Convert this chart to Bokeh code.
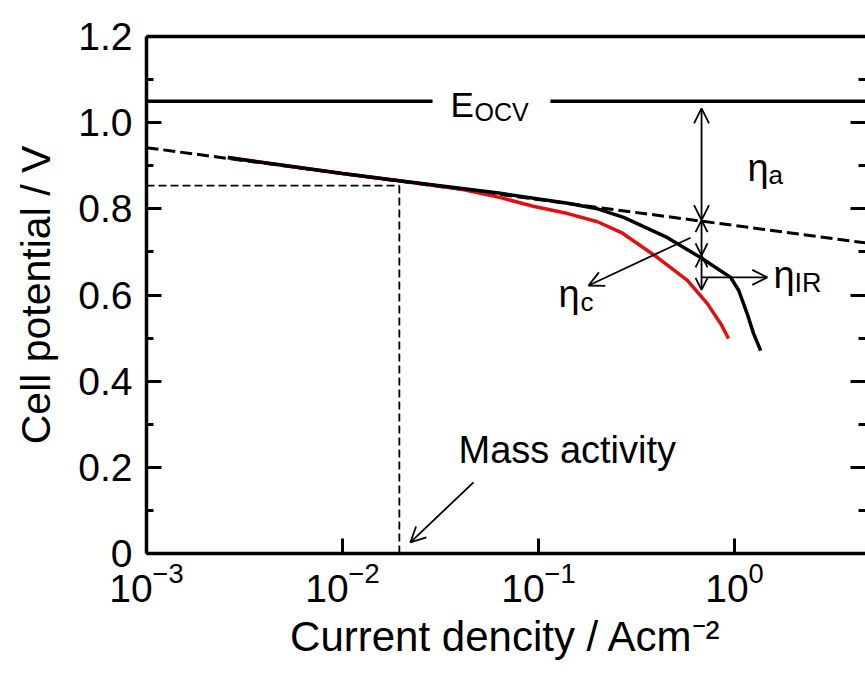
from bokeh.plotting import figure
from bokeh.models import (LogAxis, LinearAxis, Range1d, FixedTicker, LogScale,
                          Arrow, OpenHead, CustomLabelingPolicy)
from bokeh.core.properties import value
from bokeh.embed import file_html
from bokeh.resources import INLINE

FONT = "Liberation Sans"

# ---------------- data ----------------
black_j = [0.0026, 0.01, 0.0195, 0.064, 0.141, 0.20, 0.272, 0.455, 0.671, 0.955, 1.05, 1.16, 1.25, 1.36]
black_v = [0.919, 0.882, 0.865, 0.836, 0.813, 0.800, 0.780, 0.733, 0.687, 0.641, 0.611, 0.557, 0.511, 0.471]
red_j = [0.0026, 0.01, 0.0195, 0.04, 0.064, 0.094, 0.141, 0.20, 0.265, 0.405, 0.575, 0.727, 0.849, 0.932]
red_v = [0.919, 0.882, 0.865, 0.846, 0.826, 0.806, 0.789, 0.770, 0.745, 0.687, 0.634, 0.580, 0.534, 0.499]
tafel_j = [0.001, 4.66]
tafel_v = [0.942, 0.721]
e_ocv = 1.05
ocv_x0 = [0.001, 0.115]
ocv_x1 = [0.0288, 4.66]
mass_j = 0.0195
mass_v = 0.854
x_ticks = [0.001, 0.01, 0.1, 1.0]
y_ticks = [0, 0.2, 0.4, 0.6, 0.8, 1.0, 1.2]
y_minor = [0.1, 0.3, 0.5, 0.7, 0.9, 1.1]
y_labels = ["0", "0.2", "0.4", "0.6", "0.8", "1.0", "1.2"]

# annotation anchors
eta_x = 0.679
eta_tafel = 0.774
eta_black = 0.692
eta_red = 0.612
eta_ir_y = 0.641
eta_ir_end = 1.47
etac_start = (0.597, 0.733)
etac_end = (0.180, 0.622)
mass_arrow_start = (0.0466, 0.165)
mass_arrow_end = (0.0222, 0.026)

p = figure(width=865, height=676, x_axis_type=None, y_axis_type=None,
           x_range=Range1d(0.001, 4.66), y_range=Range1d(0, 1.2),
           output_backend="svg", toolbar_location=None,
           min_border_left=146, min_border_right=0, min_border_top=36, min_border_bottom=123)
p.x_scale = LogScale()
p.outline_line_color = None
p.background_fill_color = "white"
p.border_fill_color = "white"
p.grid.visible = False

LW = 3.5
HIDE = "for (const i of indices) indices.unset(i)"


def style_common(ax):
    ax.axis_line_width = LW
    ax.axis_line_color = "black"
    ax.major_tick_line_width = 3
    ax.minor_tick_line_width = 3
    ax.major_tick_in = 15
    ax.major_tick_out = 0
    ax.minor_tick_in = 7
    ax.minor_tick_out = 0
    ax.major_label_text_color = "black"
    ax.axis_label_text_color = "black"


def hide_labels(ax):
    ax.major_label_policy = CustomLabelingPolicy(code=HIDE)
    ax.major_label_text_font_size = "0px"
    ax.major_label_standoff = 0


# bottom axis
xb = LogAxis(ticker=FixedTicker(ticks=x_ticks))
style_common(xb)
xb.minor_tick_line_color = None
xb.major_label_text_font = FONT
xb.major_label_text_font_size = "39px"
xb.major_label_standoff = 8
xb.axis_label = "Current dencity / Acm⁻²"
xb.axis_label_text_font = FONT
xb.axis_label_text_font_style = "normal"
xb.axis_label_text_font_size = "42px"
xb.axis_label_standoff = 8
p.add_layout(xb, "below")

# top axis (frame line only)
xt = LogAxis(ticker=FixedTicker(ticks=[]))
style_common(xt)
xt.major_tick_line_color = None
xt.minor_tick_line_color = None
hide_labels(xt)
p.add_layout(xt, "above")

# left axis
yl = LinearAxis(ticker=FixedTicker(ticks=y_ticks, minor_ticks=y_minor))
style_common(yl)
yl.major_label_text_font = FONT
yl.major_label_text_font_size = "39px"
yl.major_label_standoff = 14
yl.major_label_overrides = {t: s for t, s in zip(y_ticks, y_labels)}
yl.axis_label = "Cell potential / V"
yl.axis_label_text_font = FONT
yl.axis_label_text_font_style = "normal"
yl.axis_label_text_font_size = "41px"
yl.axis_label_standoff = 16
p.add_layout(yl, "left")

# right axis (ticks only)
yr = LinearAxis(ticker=FixedTicker(ticks=y_ticks, minor_ticks=y_minor))
style_common(yr)
yr.axis_line_color = None
hide_labels(yr)
p.add_layout(yr, "right")

# E_OCV line (with a gap for its label)
p.segment(x0=ocv_x0, y0=[e_ocv] * 2, x1=ocv_x1, y1=[e_ocv] * 2, line_color="black", line_width=3.5)

# Tafel extrapolation
p.line(tafel_j, tafel_v, line_color="black", line_width=3, line_dash="12 5")

# mass-activity guides
p.line([0.001, mass_j], [mass_v, mass_v], line_color="black", line_width=1.8, line_dash="8 4")
p.line([mass_j, mass_j], [0, mass_v], line_color="black", line_width=1.8, line_dash="8 4")

# polarisation curves
p.line(red_j, red_v, line_color="#e01010", line_width=3.5)
p.line(black_j, black_v, line_color="black", line_width=3.5)


# arrows
def arrow(x0, y0, x1, y1, start=False, size=14):
    a = Arrow(x_start=x0, y_start=y0, x_end=x1, y_end=y1, line_width=1.8, line_color="black",
              end=OpenHead(size=size, line_width=1.8, line_color="black"),
              start=OpenHead(size=size, line_width=1.8, line_color="black") if start else None)
    p.add_layout(a)


arrow(eta_x, 1.033, eta_x, eta_tafel, start=True, size=15)
arrow(eta_x, eta_tafel, eta_x, eta_black, start=True, size=12)
arrow(eta_x, eta_black, eta_x, eta_red, start=True, size=12)
arrow(eta_x, eta_ir_y, eta_ir_end, eta_ir_y, size=15)
arrow(etac_start[0], etac_start[1], etac_end[0], etac_end[1], size=15)
arrow(mass_arrow_start[0], mass_arrow_start[1], mass_arrow_end[0], mass_arrow_end[1], size=15)

# texts
SHIFT = -13


def txt(x, y, s, size, dx=0, dy=0):
    p.text(x=[x], y=[y], text=[s], text_font=value(FONT), text_font_size=value(size),
           text_baseline="alphabetic", text_align="left", text_color="black",
           x_offset=dx, y_offset=dy + SHIFT)


txt(0.0356, 1.012, "E", "35px")
txt(0.0356, 1.012, "OCV", "25px", dx=24, dy=8)
txt(1.164, 0.864, "η", "38px")
txt(1.164, 0.864, "a", "26px", dx=21, dy=7)
txt(0.1265, 0.571, "η", "38px")
txt(0.1265, 0.571, "c", "26px", dx=22, dy=8)
txt(1.58, 0.617, "η", "38px")
txt(1.58, 0.617, "IR", "27px", dx=21, dy=8)
txt(0.0391, 0.209, "Mass activity", "38px")

open("out.html", "w").write(file_html(p, INLINE))
